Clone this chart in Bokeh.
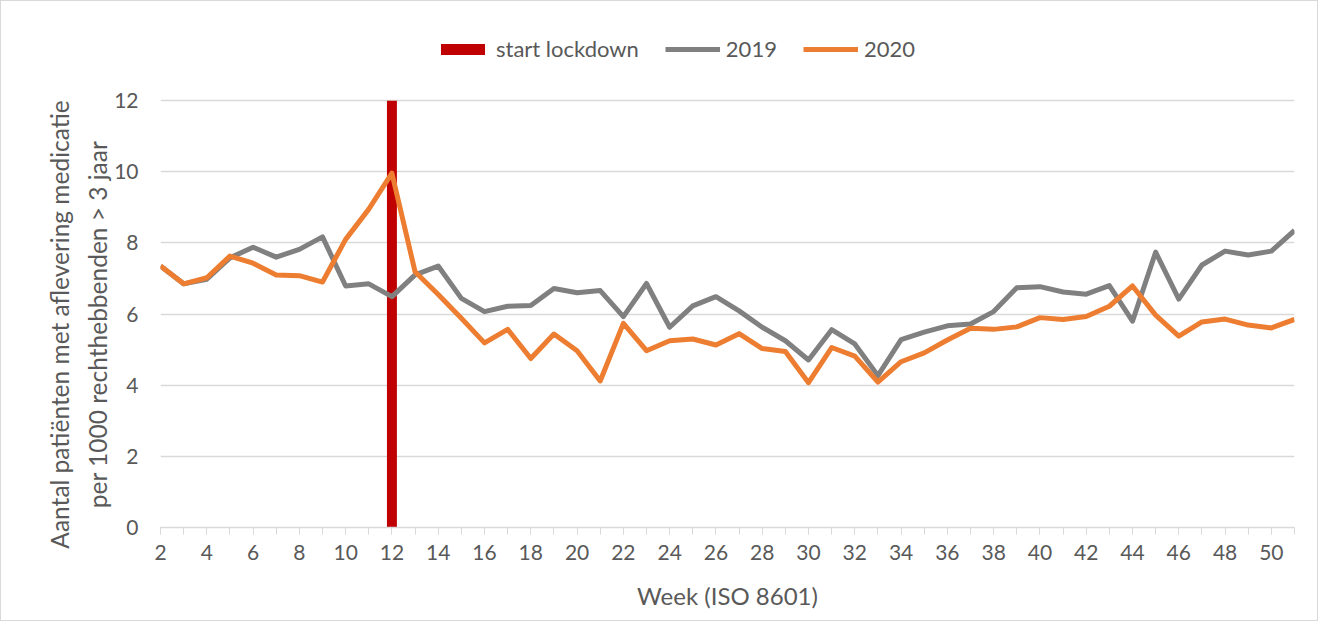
from bokeh.plotting import figure
from bokeh.models import Range1d, SingleIntervalTicker, FixedTicker, Legend, LegendItem, LinearAxis
from bokeh.embed import file_html
from bokeh.resources import INLINE

weeks = list(range(2, 52))
y2019 = [7.35, 6.85, 6.98, 7.58, 7.88, 7.60, 7.82, 8.17, 6.79, 6.85,
         6.49, 7.10, 7.35, 6.44, 6.07, 6.22, 6.24, 6.72, 6.60, 6.66,
         5.93, 6.86, 5.63, 6.23, 6.49, 6.09, 5.63, 5.25, 4.71, 5.56,
         5.16, 4.27, 5.28, 5.49, 5.67, 5.72, 6.07, 6.74, 6.77, 6.62,
         6.56, 6.80, 5.80, 7.74, 6.42, 7.38, 7.77, 7.66, 7.77, 8.35]
y2020 = [7.35, 6.85, 7.02, 7.63, 7.43, 7.10, 7.08, 6.90, 8.10, 8.95,
         9.96, 7.19, 6.55, 5.88, 5.19, 5.57, 4.75, 5.44, 4.97, 4.12,
         5.74, 4.97, 5.25, 5.30, 5.13, 5.45, 5.03, 4.95, 4.07, 5.06,
         4.82, 4.09, 4.66, 4.91, 5.27, 5.60, 5.57, 5.64, 5.90, 5.85,
         5.93, 6.22, 6.79, 5.97, 5.38, 5.78, 5.86, 5.69, 5.61, 5.85]
lockdown_week = [12]
lockdown_top = [12]
y_ticks = [0, 2, 4, 6, 8, 10, 12]
y_title_lines = ["Aantal patiënten met aflevering medicatie",
                 "per 1000 rechthebbenden > 3 jaar"]

FONT = "Lato"
TXT = "#595959"
GRID = "#d9d9d9"

p = figure(width=1318, height=621, output_backend="svg", toolbar_location=None,
           x_range=Range1d(2, 51), y_range=Range1d(0, 14),
           min_border_left=159, min_border_right=25, min_border_top=28, min_border_bottom=95,
           styles={"border": "1px solid #d9d9d9", "box-sizing": "border-box"})
p.outline_line_color = None
p.background_fill_color = "white"
p.border_fill_color = "white"

bar = p.vbar(x=lockdown_week, top=lockdown_top, bottom=0, width=0.43,
             fill_color="#C00000", line_color=None)
l19 = p.line(weeks, y2019, line_color="#808080", line_width=5, line_join="round")
l20 = p.line(weeks, y2020, line_color="#ED7D31", line_width=5, line_join="round")

p.xgrid.grid_line_color = None
p.ygrid.grid_line_color = GRID
p.ygrid.grid_line_width = 1.5
p.ygrid.ticker = FixedTicker(ticks=y_ticks)

xa = p.xaxis[0]
xa.ticker = SingleIntervalTicker(interval=2, num_minor_ticks=2)
xa.axis_line_color = GRID
xa.axis_line_width = 1.5
xa.major_tick_line_color = GRID
xa.minor_tick_line_color = GRID
xa.major_tick_out = 7
xa.major_tick_in = 0
xa.minor_tick_out = 7
xa.minor_tick_in = 0
xa.major_label_standoff = 10
xa.major_label_text_font = FONT
xa.major_label_text_font_size = "21px"
xa.major_label_text_color = TXT
xa.axis_label = "Week (ISO 8601)"
xa.axis_label_text_font = FONT
xa.axis_label_text_font_size = "24px"
xa.axis_label_text_font_style = "normal"
xa.axis_label_text_color = TXT
xa.axis_label_standoff = 18

ya = p.yaxis[0]
ya.ticker = FixedTicker(ticks=y_ticks)
ya.axis_line_color = None
ya.major_tick_line_color = None
ya.minor_tick_line_color = None
ya.major_label_standoff = 16
ya.major_label_text_font = FONT
ya.major_label_text_font_size = "21px"
ya.major_label_text_color = TXT

# separate left axis that only carries the title; trailing em spaces move the
# visible text down so that it sits where the reference has it
pad = "\u2003" * 5
lab = LinearAxis(ticker=FixedTicker(ticks=[]),
                 axis_line_color=None, major_tick_line_color=None,
                 minor_tick_line_color=None, major_label_text_font_size="0px",
                 major_label_standoff=0, major_tick_out=0, major_tick_in=0,
                 minor_tick_out=0, minor_tick_in=0)
lab.axis_label = "\n".join(line + pad for line in y_title_lines)
lab.axis_label_text_font = FONT
lab.axis_label_text_font_size = "24.5px"
lab.axis_label_text_font_style = "normal"
lab.axis_label_text_color = TXT
lab.axis_label_text_line_height = 1.3
lab.axis_label_standoff = 0
lab.axis_label_text_align = "center"
p.add_layout(lab, "left")

legend = Legend(items=[LegendItem(label="start lockdown", renderers=[bar]),
                       LegendItem(label="2019", renderers=[l19]),
                       LegendItem(label="2020", renderers=[l20])],
                orientation="horizontal", location=(275, 465), margin=0, padding=4,
                glyph_width=55, glyph_height=14, label_height=20, label_standoff=6,
                spacing=26, border_line_color=None, background_fill_alpha=0,
                label_text_font=FONT, label_text_font_size="22px", label_text_color=TXT)
p.add_layout(legend, "center")

open("out.html", "w").write(file_html(p, INLINE))
